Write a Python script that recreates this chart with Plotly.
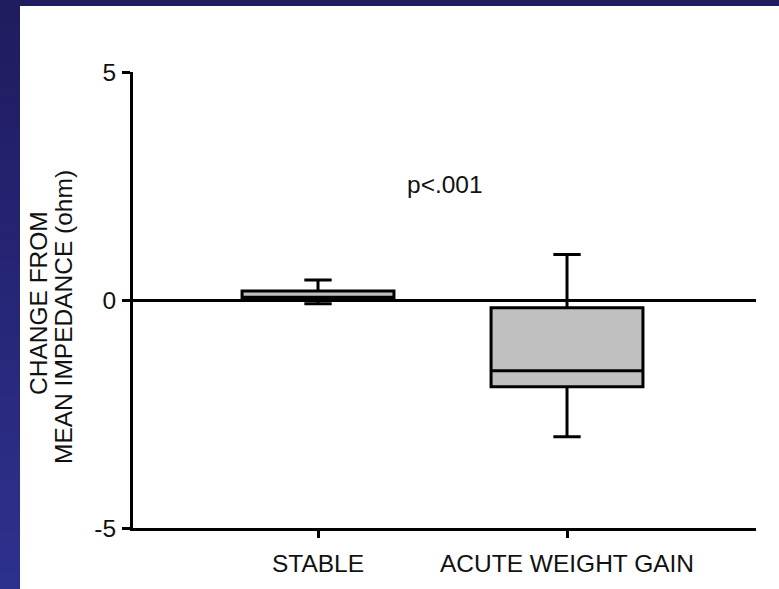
import plotly.graph_objects as go

# Box summaries: change from mean impedance (ohm)
groups = ["STABLE", "ACUTE WEIGHT GAIN"]
lower_whisker = [-0.08, -3.0]
q1 = [0.0, -1.9]
median = [0.06, -1.55]
q3 = [0.2, -0.17]
upper_whisker = [0.44, 1.0]

y_ticks = [-5, 0, 5]
y_tick_text = ["-5", "0", "5"]
p_label = "p<.001"

W, H = 779, 589
L, R, T, B = 133, 23, 72, 61
pw, ph = W - L - R, H - T - B

def px_x(p):
    return (p - L) / pw

def px_y(p):
    return (H - B - p) / ph

FONT = "Arial, Liberation Sans, Helvetica, sans-serif"
INK = "#111111"
FS = 24.5

fig = go.Figure()
for i, name in enumerate(groups):
    fig.add_trace(go.Box(
        x=[i], q1=[q1[i]], median=[median[i]], q3=[q3[i]],
        lowerfence=[lower_whisker[i]], upperfence=[upper_whisker[i]],
        name=name, boxpoints=False, width=0.61, whiskerwidth=0.18,
        fillcolor="#c0c0c0", line=dict(color="black", width=3),
        showlegend=False, hoverinfo="skip",
    ))

# slide background: dark navy frame with a vertical gradient on the left edge
shapes = [dict(type="rect", xref="paper", yref="paper",
               x0=px_x(20), x1=px_x(W + 5), y0=px_y(H + 5), y1=px_y(6),
               fillcolor="white", line=dict(width=0), layer="below")]
n = 30
top_c, bot_c = (0x1f, 0x1c, 0x60), (0x2e, 0x30, 0x8e)
for k in range(n):
    t = k / (n - 1)
    c = tuple(round(a + (b - a) * t) for a, b in zip(top_c, bot_c))
    shapes.append(dict(type="rect", xref="paper", yref="paper",
                       x0=px_x(-1), x1=px_x(20),
                       y0=px_y(6 + (k + 1) * (H - 6) / n + 1),
                       y1=px_y(6 + k * (H - 6) / n),
                       fillcolor="rgb(%d,%d,%d)" % c, line=dict(width=0),
                       layer="below"))

annotations = [
    dict(x=0.51, y=2.54, xref="x", yref="y", text=p_label, showarrow=False,
         xanchor="center", yanchor="middle",
         font=dict(family=FONT, size=FS, color=INK)),
    dict(x=px_x(38), y=px_y(303), xref="paper", yref="paper",
         text="CHANGE FROM", textangle=-90, showarrow=False,
         xanchor="center", yanchor="middle",
         font=dict(family=FONT, size=FS, color=INK)),
    dict(x=px_x(63), y=px_y(317), xref="paper", yref="paper",
         text="MEAN IMPEDANCE (ohm)", textangle=-90, showarrow=False,
         xanchor="center", yanchor="middle",
         font=dict(family=FONT, size=FS, color=INK)),
]

fig.update_layout(
    width=W, height=H,
    margin=dict(l=L, r=R, t=T, b=B, pad=0),
    paper_bgcolor="#1f1c60", plot_bgcolor="white",
    shapes=shapes, annotations=annotations,
    xaxis=dict(range=[-0.743, 1.759], tickvals=[0, 1], ticktext=groups,
               showgrid=False, zeroline=False, showline=True,
               linecolor="black", linewidth=3, ticks="outside", ticklen=7,
               tickwidth=2.5, tickcolor="black", ticklabelstandoff=5,
               tickfont=dict(family=FONT, size=FS, color=INK)),
    yaxis=dict(range=[-5, 5], tickvals=y_ticks, ticktext=y_tick_text,
               showgrid=False, zeroline=True, zerolinecolor="black",
               zerolinewidth=3, showline=True, linecolor="black", linewidth=3,
               ticks="outside", ticklen=8, tickwidth=2.5, tickcolor="black",
               ticklabelstandoff=1,
               tickfont=dict(family=FONT, size=FS, color=INK)),
)

fig.write_html("out.html")
